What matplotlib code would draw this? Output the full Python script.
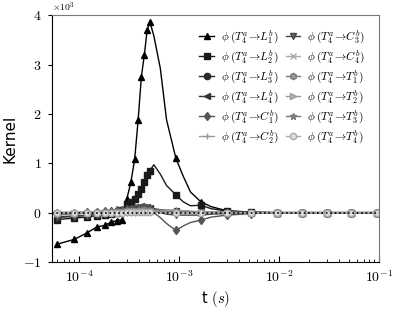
import matplotlib
matplotlib.use("Agg")
import matplotlib.pyplot as plt
import numpy as np

plt.rcParams['font.family'] = 'cmr10'
plt.rcParams['mathtext.fontset'] = 'cm'
plt.rcParams['axes.formatter.use_mathtext'] = True
plt.rcParams['axes.unicode_minus'] = False

# time samples (s); markers only on some of them
t = [6.0e-5, 9.0e-5, 1.2e-4, 1.5e-4, 1.8e-4, 2.1e-4, 2.4e-4, 2.7e-4,
     3.0e-4, 3.3e-4, 3.6e-4, 3.9e-4, 4.2e-4, 4.5e-4, 4.8e-4, 5.1e-4,
     5.6e-4, 6.5e-4, 7.5e-4, 9.3e-4, 1.1e-3, 1.3e-3, 1.65e-3, 2.1e-3,
     3.0e-3, 5.3e-3, 9.5e-3, 1.7e-2, 3.0e-2, 5.3e-2, 9.5e-2]
marked = list(range(16)) + [19, 22, 24, 25, 26, 27, 28, 29, 30]

# kernel values, in units of 10^3
L1 = [-0.64, -0.54, -0.41, -0.29, -0.26, -0.19, -0.16, -0.14, 0.27, 0.62, 1.08, 1.88, 2.75, 3.20, 3.70, 3.87,
      3.58, 2.92, 1.88, 1.10, 0.74, 0.42, 0.22, 0.12, 0.04, 0.01, 0.0, 0.0, 0.0, 0.0, 0.0]
L2 = [-0.14, -0.11, -0.09, -0.06, -0.04, -0.02, 0.00, 0.05, 0.17, 0.22, 0.28, 0.38, 0.48, 0.62, 0.76, 0.85,
      0.97, 0.78, 0.55, 0.36, 0.22, 0.14, 0.15, 0.08, 0.03, 0.01, 0.0, 0.0, 0.0, 0.0, 0.0]
L3 = [-0.03, -0.02, -0.01, 0.00, 0.01, 0.02, 0.03, 0.04, 0.05, 0.06, 0.07, 0.08, 0.09, 0.09, 0.08, 0.07,
      0.05, 0.04, 0.03, 0.04, 0.03, 0.02, 0.02, 0.01, 0.01, 0.0, 0.0, 0.0, 0.0, 0.0, 0.0]
L4 = [-0.08, -0.07, -0.05, -0.03, -0.01, 0.00, 0.02, 0.04, 0.07, 0.09, 0.11, 0.12, 0.13, 0.12, 0.11, 0.10,
      0.08, 0.06, 0.05, 0.04, 0.03, 0.02, 0.01, 0.01, 0.0, 0.0, 0.0, 0.0, 0.0, 0.0, 0.0]
C1 = [0.00, 0.00, 0.01, 0.02, 0.03, 0.04, 0.05, 0.06, 0.07, 0.08, 0.09, 0.10, 0.10, 0.11, 0.10, 0.08,
      0.00, -0.10, -0.22, -0.36, -0.27, -0.20, -0.15, -0.09, -0.05, -0.02, 0.0, 0.0, 0.0, 0.0, 0.0]
C2 = [0.01, 0.01, 0.02, 0.02, 0.03, 0.03, 0.04, 0.04, 0.05, 0.05, 0.06, 0.06, 0.07, 0.07, 0.06, 0.06,
      0.05, 0.05, 0.05, 0.05, 0.04, 0.03, 0.02, 0.02, 0.01, 0.0, 0.0, 0.0, 0.0, 0.0, 0.0]
C3 = [-0.10, -0.08, -0.06, -0.04, -0.02, -0.01, 0.00, 0.01, 0.02, 0.03, 0.04, 0.05, 0.06, 0.06, 0.05, 0.05,
      0.03, 0.00, -0.03, -0.05, -0.05, -0.05, -0.05, -0.03, -0.02, -0.01, 0.0, 0.0, 0.0, 0.0, 0.0]
C4 = [0.00, 0.00, 0.00, 0.01, 0.01, 0.01, 0.02, 0.02, 0.03, 0.03, 0.04, 0.04, 0.05, 0.05, 0.05, 0.04,
      0.04, 0.03, 0.03, 0.02, 0.02, 0.01, 0.01, 0.01, 0.0, 0.0, 0.0, 0.0, 0.0, 0.0, 0.0]
T1 = [-0.02, -0.02, -0.01, -0.01, 0.00, 0.00, 0.01, 0.01, 0.02, 0.02, 0.02, 0.03, 0.03, 0.03, 0.03, 0.03,
      0.02, 0.02, 0.01, 0.01, 0.01, 0.0, 0.0, 0.0, 0.0, 0.0, 0.0, 0.0, 0.0, 0.0, 0.0]
T2 = [-0.01, -0.01, 0.00, 0.00, 0.00, 0.01, 0.01, 0.01, 0.02, 0.02, 0.02, 0.02, 0.03, 0.03, 0.02, 0.02,
      0.02, 0.01, 0.01, 0.01, 0.0, 0.0, 0.0, 0.0, 0.0, 0.0, 0.0, 0.0, 0.0, 0.0, 0.0]
T3 = [0.00, 0.00, 0.00, 0.00, 0.01, 0.01, 0.01, 0.02, 0.02, 0.03, 0.03, 0.04, 0.04, 0.04, 0.04, 0.04,
      0.03, 0.03, 0.02, 0.02, 0.01, 0.01, 0.01, 0.0, 0.0, 0.0, 0.0, 0.0, 0.0, 0.0, 0.0]
T4 = [0.00, 0.00, 0.00, 0.00, 0.00, 0.00, 0.00, 0.00, 0.01, 0.01, 0.01, 0.01, 0.01, 0.01, 0.01, 0.01,
      0.01, 0.01, 0.0, 0.0, 0.0, 0.0, 0.0, 0.0, 0.0, 0.0, 0.0, 0.0, 0.0, 0.0, 0.0]

targets = ['L_1', 'L_2', 'L_3', 'L_4', 'C_1', 'C_2', 'C_3', 'C_4', 'T_1', 'T_2', 'T_3', 'T_4']
series = [L1, L2, L3, L4, C1, C2, C3, C4, T1, T2, T3, T4]

# (marker, line colour, face colour, size)
styles = [('^', '#000000', '#000000', 5),
          ('s', '#1a1a1a', '#1a1a1a', 5),
          ('o', '#2a2a2a', '#2a2a2a', 4.5),
          ('<', '#333333', '#333333', 4.5),
          ('d', '#555555', '#555555', 4.5),
          ('+', '#9a9a9a', '#9a9a9a', 5),
          ('v', '#444444', '#666666', 4.5),
          ('x', '#aaaaaa', '#aaaaaa', 4),
          ('h', '#777777', '#999999', 4.5),
          ('>', '#999999', '#bbbbbb', 4.5),
          ('*', '#777777', '#888888', 4.5),
          ('o', '#aaaaaa', '#dddddd', 4.5)]

fig = plt.figure(figsize=(3.99, 3.09), dpi=100)
ax = fig.add_axes([0.130, 0.152, 0.820, 0.799])

for name, vals, (mk, col, fc, ms) in zip(targets, series, styles):
    lbl = r'$\phi\;(T_4^a\!\rightarrow\!%s^b)$' % name
    ax.plot(t, np.array(vals) * 1e3, marker=mk, color=col, mfc=fc, mec=col,
            ms=ms, lw=1.0, markevery=marked, label=lbl)

ax.axhline(0, color='k', ls=':', lw=1.2, zorder=5)

ax.set_xscale('log')
ax.set_xlim(5.35e-5, 1e-1)
ax.set_ylim(-1000, 4000)
ax.set_yticks([-1000, 0, 1000, 2000, 3000, 4000])
ax.ticklabel_format(axis='y', style='sci', scilimits=(0, 0))
ax.yaxis.get_offset_text().set_fontsize(7)

ax.tick_params(axis='x', which='both', direction='in', labelsize=10, pad=5)
ax.tick_params(axis='x', which='major', length=4)
ax.tick_params(axis='x', which='minor', length=2)
ax.tick_params(axis='y', direction='out', length=3, labelsize=10, pad=4.5)
for side in ['top', 'right']:
    ax.spines[side].set_color('#777777')

ax.set_ylabel('Kernel', family='DejaVu Sans', fontsize=11, labelpad=4)
ax.set_xlabel(r't $(s)$', family='DejaVu Sans', fontsize=10.5, labelpad=3)

ax.legend(loc='upper right', ncol=2, frameon=False, fontsize=8.2,
          handlelength=1.3, handletextpad=0.6, columnspacing=0.6,
          labelspacing=0.25, borderaxespad=0.8)

fig.savefig('out.png', dpi=100)
